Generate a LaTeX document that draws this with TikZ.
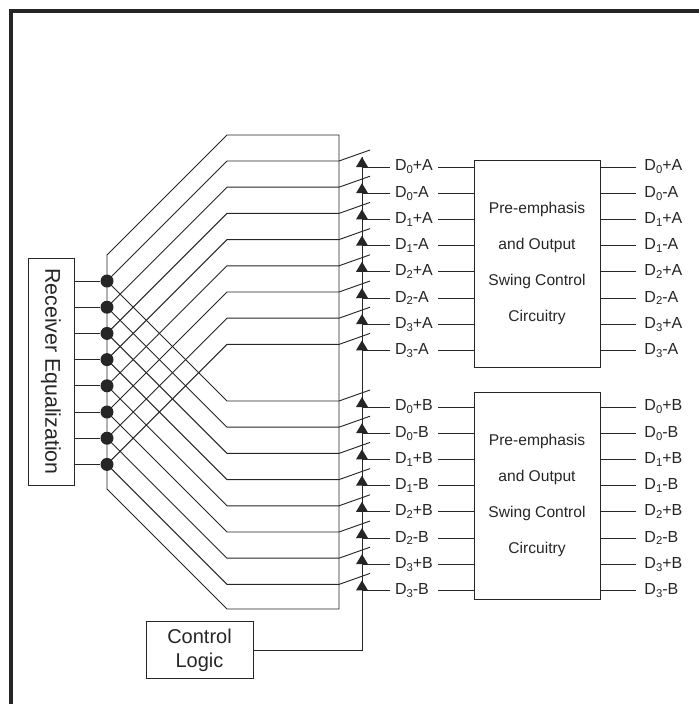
\documentclass[tikz,border=0pt]{standalone}
\usepackage{fontspec}
\setmainfont{Liberation Sans}
\newcommand\dsub[1]{\raisebox{-2.2pt}{\fontsize{8.5}{9}\selectfont#1}}
\begin{document}
\begin{tikzpicture}[x=0.75pt,y=-0.75pt,line width=0.7pt,color=black!85,
 blk/.style={draw,inner sep=0pt},
 dot/.style={circle,fill,inner sep=0pt,minimum size=9.75pt},
 dlab/.style={inner sep=0pt,inner xsep=3.75pt,text width=28.5pt,align=left,font=\fontsize{12}{14}\selectfont},
 rlab/.style={anchor=west,inner sep=0pt,inner xsep=6pt,font=\fontsize{12}{14}\selectfont},
 pre/.style={blk,minimum width=94.5pt,minimum height=155.25pt,align=center,font=\fontsize{11.7}{27}\selectfont}]
 \useasboundingbox (0,0) rectangle (699,704);
 \clip (0,0) rectangle (699,704);
 \draw[line width=2.4pt] (11,720) -- (11,11) -- (720,11);
 % receiver and fan out
 \node[blk,rotate=-90,minimum width=170.25pt,minimum height=34.5pt,font=\fontsize{16}{18}\selectfont] (rx) at (51,371.5) {Receiver Equalization};
 \draw (107,255) -- (227,135) -- (339,135) -- (339,609) -- (227,609) -- (107,489) -- cycle;
 \foreach \i in {0,...,7} {
  \node[dot] (d\i) at (107,281+26.2*\i) {};
  \coordinate (wa\i) at (339,161+26.2*\i);
  \coordinate (wb\i) at (339,401+26.2*\i);
  \draw (rx.north |- d\i) -- (d\i);
  \draw (d\i.center) -- ++(120,-120) -- (wa\i) -- ++(31,-11);
  \draw (d\i.center) -- ++(120,120) -- (wb\i) -- ++(31,-11);
 }
 % output blocks
 \node[pre] (pa) at (537,263.5) {Pre-emphasis\\and Output\\Swing Control\\Circuitry};
 \node[pre] (pb) at (537,495.5) {Pre-emphasis\\and Output\\Swing Control\\Circuitry};
 \foreach \i in {0,...,7} {
  \pgfmathtruncatemacro\n{\i/2}
  \def\sg{\ifodd\i -\else +\fi}
  \coordinate (ta\i) at (362,167+26.2*\i);
  \coordinate (tb\i) at (362,407+26.2*\i);
  \fill (ta\i) ++(0,-10) -- ++(-6,10) -- ++(12,0) -- cycle;
  \fill (tb\i) ++(0,-10) -- ++(-6,10) -- ++(12,0) -- cycle;
  \node[dlab] (la\i) at (414,167+26.2*\i) {D\dsub{\n}\sg A};
  \node[dlab] (lb\i) at (414,407+26.2*\i) {D\dsub{\n}\sg B};
  \node[rlab] (ra\i) at (636,167+26.2*\i) {D\dsub{\n}\sg A};
  \node[rlab] (rb\i) at (636,407+26.2*\i) {D\dsub{\n}\sg B};
  \draw (ta\i) -- (la\i.west);
  \draw (tb\i) -- (lb\i.west);
  \draw (la\i.east) -- (la\i.east -| pa.west);
  \draw (lb\i.east) -- (lb\i.east -| pb.west);
  \draw (pa.east |- ta\i) -- (ra\i.west);
  \draw (pb.east |- tb\i) -- (rb\i.west);
 }
 % control
 \node[blk,minimum width=80.25pt,minimum height=42.75pt,align=center,font=\fontsize{15}{18}\selectfont] (ctl) at (199.5,650) {Control\\Logic};
 \draw (ctl.east) -| ([yshift=7.5pt]ta0);
\end{tikzpicture}
\end{document}
